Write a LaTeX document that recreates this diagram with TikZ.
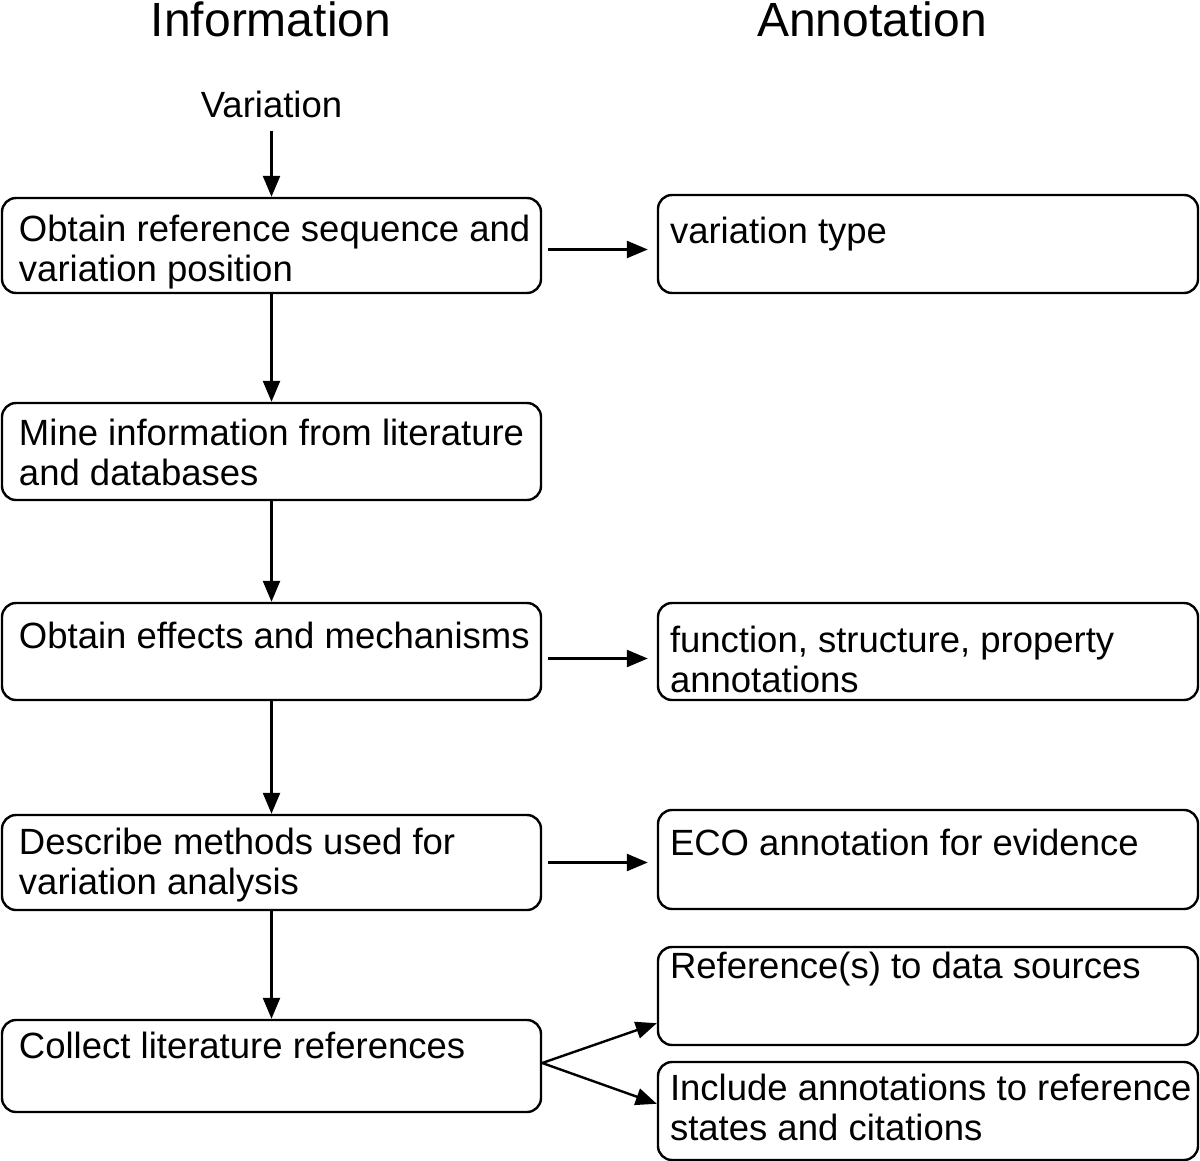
\documentclass[tikz,border=0pt]{standalone}
\usepackage{fontspec}
\setmainfont{Liberation Sans}
\usetikzlibrary{arrows.meta}
\newcommand{\infotext}[3][45pt]{\parbox[c][#2][t]{539pt}{\raggedright\leftskip=17pt\rule{0pt}{#1}#3}}
\newcommand{\annotext}[3][45pt]{\parbox[c][#2][t]{540pt}{\raggedright\leftskip=12pt\rule{0pt}{#1}#3}}
\begin{document}
\begin{tikzpicture}[x=1pt, y=-1pt, line join=round, >={Triangle[length=21pt,width=17pt]},
	box/.style={draw, rounded corners=14pt, line width=2.4pt, inner sep=0pt, font=\fontsize{36.5}{40}\selectfont},
	title/.style={anchor=base, inner sep=0pt, font=\fontsize{48}{52}\selectfont},
	flow/.style={->, line width=2.4pt},
	side/.style={flow, shorten <=6pt, shorten >=9pt}]
	\useasboundingbox (0,0) rectangle (1200,1161);
	\node[title] (info) at (271,37) {Information};
	\node[title] (anno) at (872,37) {Annotation};
	\node[anchor=base, inner sep=0pt, font=\fontsize{36.5}{40}\selectfont] (var) at (271.5,118) {Variation};
	\node[box] (b1) at (271.5,245.5) {\infotext[44pt]{95pt}{Obtain reference sequence and\\variation position}};
	\node[box] (b2) at (271.5,451.5) {\infotext[42pt]{97pt}{Mine information from literature\\and databases}};
	\node[box] (b3) at (271.5,651.5) {\infotext{97pt}{Obtain effects and mechanisms}};
	\node[box] (b4) at (271.5,862.5) {\infotext[39pt]{95pt}{Describe methods used for\\variation analysis}};
	\node[box] (b5) at (271.5,1066) {\infotext[38pt]{92pt}{Collect literature references}};
	\node[box] (r1) at (928,244) {\annotext[49pt]{98pt}{variation type}};
	\node[box] (r2) at (928,651.5) {\annotext[49pt]{97pt}{function, structure, property\\annotations}};
	\node[box] (r3) at (928,859.5) {\annotext{99pt}{ECO annotation for evidence}};
	\node[box] (r4) at (928,996) {\annotext[31pt]{98pt}{Reference(s) to data sources}};
	\node[box] (r5) at (928,1111) {\annotext[38pt]{98pt}{Include annotations to reference\\states and citations}};
	\draw[flow] ([yshift=-12pt]var.south) -- (b1.north);
	\draw[flow] (b1.south) -- (b2.north);
	\draw[flow] (b2.south) -- (b3.north);
	\draw[flow] (b3.south) -- (b4.north);
	\draw[flow] (b4.south) -- (b5.north);
	\draw[side] ([yshift=-4pt]b1.east) -- ([yshift=-4pt]b1.east -| r1.west);
	\draw[side] ([yshift=-7pt]b3.east) -- ([yshift=-7pt]b3.east -| r2.west);
	\draw[side] (b4.east) -- (b4.east -| r3.west);
	\draw[flow] ([yshift=3pt]b5.east) -- ([yshift=23pt]r4.south west);
	\draw[flow] ([yshift=3pt]b5.east) -- ([yshift=-43pt]r5.north west);
\end{tikzpicture}
\end{document}
